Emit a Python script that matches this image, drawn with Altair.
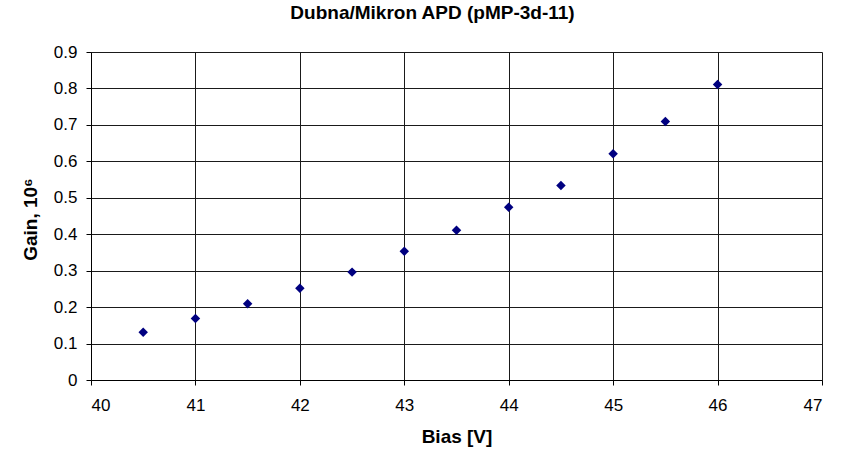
import altair as alt
import pandas as pd

bias = [40.5, 41.0, 41.5, 42.0, 42.5, 43.0, 43.5, 44.0, 44.5, 45.0, 45.5, 46.0]
gain = [0.131, 0.169, 0.209, 0.252, 0.296, 0.353, 0.411, 0.474, 0.534, 0.621, 0.709, 0.811]
x_ticks = [40, 41, 42, 43, 44, 45, 46, 47]
y_ticks = [0, 0.1, 0.2, 0.3, 0.4, 0.5, 0.6, 0.7, 0.8, 0.9]

df = pd.DataFrame({"bias": bias, "gain": gain})

FONT = "Liberation Sans"

chart = alt.Chart(df).mark_point(
    shape="diamond", filled=True, size=90, color="#000080", opacity=1
).encode(
    x=alt.X("bias:Q",
            scale=alt.Scale(domain=[40, 47], nice=False, zero=False),
            axis=alt.Axis(values=x_ticks, title="Bias [V]", format="d",
                          grid=True, gridColor="#1a1a1a", gridWidth=1,
                          domainColor="#000000", tickColor="#000000",
                          tickSize=5, labelPadding=12,
                          labelFont=FONT, labelFontSize=17, labelColor="#000000",
                          titleFont=FONT, titleFontSize=19, titleFontWeight="bold",
                          titleColor="#000000", titleY=56, titleBaseline="middle")),
    y=alt.Y("gain:Q",
            scale=alt.Scale(domain=[0, 0.9], nice=False),
            axis=alt.Axis(values=y_ticks, title="Gain, 10⁶",
                          labelExpr="datum.value == 0 ? '0' : format(datum.value, '.1f')",
                          grid=True, gridColor="#1a1a1a", gridWidth=1,
                          domainColor="#000000", tickColor="#000000",
                          tickSize=5, labelPadding=9,
                          labelFont=FONT, labelFontSize=17, labelColor="#000000",
                          titleFont=FONT, titleFontSize=19, titleFontWeight="bold",
                          titleColor="#000000", titleAngle=-90,
                          titleX=-61, titleY=167, titleBaseline="middle",
                          titleAlign="center")),
).properties(
    width=731,
    height=328,
    title=alt.TitleParams("Dubna/Mikron APD (pMP-3d-11)", font=FONT, fontSize=19,
                          fontWeight="bold", color="#000000", anchor="middle",
                          dx=-24, offset=20),
    autosize=alt.AutoSizeParams(type="none"),
    padding={"left": 91, "top": 52, "right": 22, "bottom": 71},
).configure_view(
    stroke="#808080", strokeWidth=1
).configure(background="#ffffff")

chart.save("out.html", embed_options={"renderer": "svg", "actions": False})
